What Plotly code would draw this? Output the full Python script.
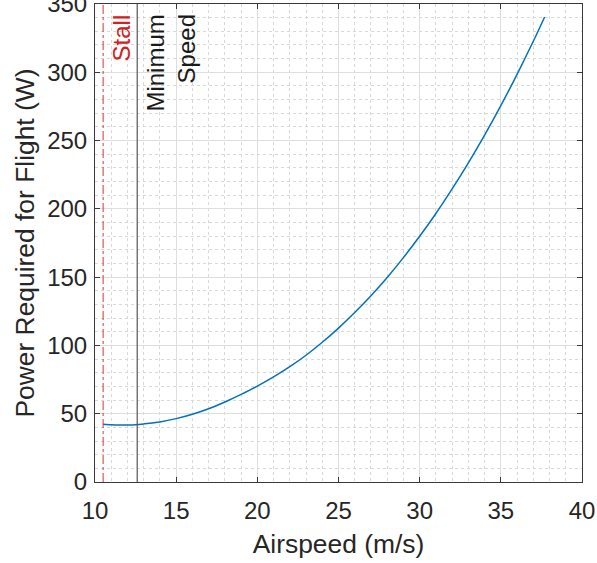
import plotly.graph_objects as go

# Power required for level flight versus airspeed
airspeed = [10.5, 11.0, 11.5, 12.0, 12.5, 13.0, 14.0, 15.0, 16.0, 17.0, 18.0,
            19.0, 20.0, 21.0, 22.0, 23.0, 24.0, 25.0, 26.0, 27.0, 28.0, 29.0,
            30.0, 31.0, 32.0, 33.0, 34.0, 35.0, 36.0, 37.0, 37.7]
power = [42.3, 41.9, 41.7, 41.7, 41.9, 42.5, 44.0, 46.4, 49.6, 53.6, 58.6,
         64.2, 70.2, 76.9, 84.4, 92.8, 102.3, 112.7, 124.1, 136.4, 149.8, 164.3,
         179.9, 196.6, 214.6, 233.7, 254.0, 275.6, 298.5, 322.7, 340.5]

v_stall = 10.5
v_min = 12.6

x_range = [10, 40]
y_range = [0, 350]
x_ticks = [10, 15, 20, 25, 30, 35, 40]
y_ticks = [0, 50, 100, 150, 200, 250, 300, 350]

FONT = "Liberation Sans, Arial, sans-serif"
AX = "#262626"

fig = go.Figure()

fig.add_trace(go.Scatter(
    x=airspeed, y=power, mode="lines",
    line=dict(color="#0072BD", width=1.5, shape="spline", smoothing=0.8),
    showlegend=False,
))

# stall speed marker (red dash-dot)
fig.add_trace(go.Scatter(
    x=[v_stall, v_stall], y=y_range, mode="lines",
    line=dict(color="#e03030", width=1, dash="dashdot"), showlegend=False,
))

# minimum flight speed marker
fig.add_trace(go.Scatter(
    x=[v_min, v_min], y=y_range, mode="lines",
    line=dict(color="#555555", width=1.2), showlegend=False,
))

ann_font = dict(family=FONT, size=24)
fig.add_annotation(x=11.65, y=344, xref="x", yref="y", text="Stall",
                   textangle=-90, showarrow=False, xanchor="center", yanchor="top",
                   font=dict(ann_font, color="#d42020"))
fig.add_annotation(x=13.75, y=344, xref="x", yref="y", text="Minimum",
                   textangle=-90, showarrow=False, xanchor="center", yanchor="top",
                   font=dict(ann_font, color="#1a1a1a"))
fig.add_annotation(x=15.65, y=344, xref="x", yref="y", text="Speed",
                   textangle=-90, showarrow=False, xanchor="center", yanchor="top",
                   font=dict(ann_font, color="#1a1a1a"))

axis_common = dict(
    showline=True, linecolor="#3a3a3a", linewidth=1, mirror="ticks",
    ticks="inside", ticklen=5, tickcolor="#3a3a3a", tickwidth=1,
    showgrid=True, gridcolor="#dedede", gridwidth=1,
    zeroline=False, automargin=False,
    tickfont=dict(family=FONT, size=24, color=AX),
    ticklabeloverflow="allow",
    minor=dict(showgrid=True, gridcolor="#d8d8d8", griddash="dot", gridwidth=1),
)

fig.update_xaxes(
    range=x_range, tickvals=x_ticks, ticktext=[str(t) for t in x_ticks],
    ticklabelstandoff=7,
    title=dict(text="Airspeed (m/s)", font=dict(family=FONT, size=26.4, color=AX), standoff=11),
    **axis_common,
)
fig.update_yaxes(
    range=y_range, tickvals=y_ticks, ticktext=[str(t) for t in y_ticks],
    ticklabelstandoff=2,
    title=dict(text="Power Required for Flight (W)", font=dict(family=FONT, size=26.4, color=AX), standoff=4),
    **axis_common,
)
fig.update_xaxes(minor=dict(tickvals=[v for v in range(10, 41)]))
fig.update_yaxes(minor=dict(tickvals=[v for v in range(0, 351, 10)]))

fig.update_layout(
    width=597, height=563,
    margin=dict(l=95, r=15, t=4, b=81),
    plot_bgcolor="white", paper_bgcolor="white",
    font=dict(family=FONT, color=AX),
)

fig.write_html("out.html")
